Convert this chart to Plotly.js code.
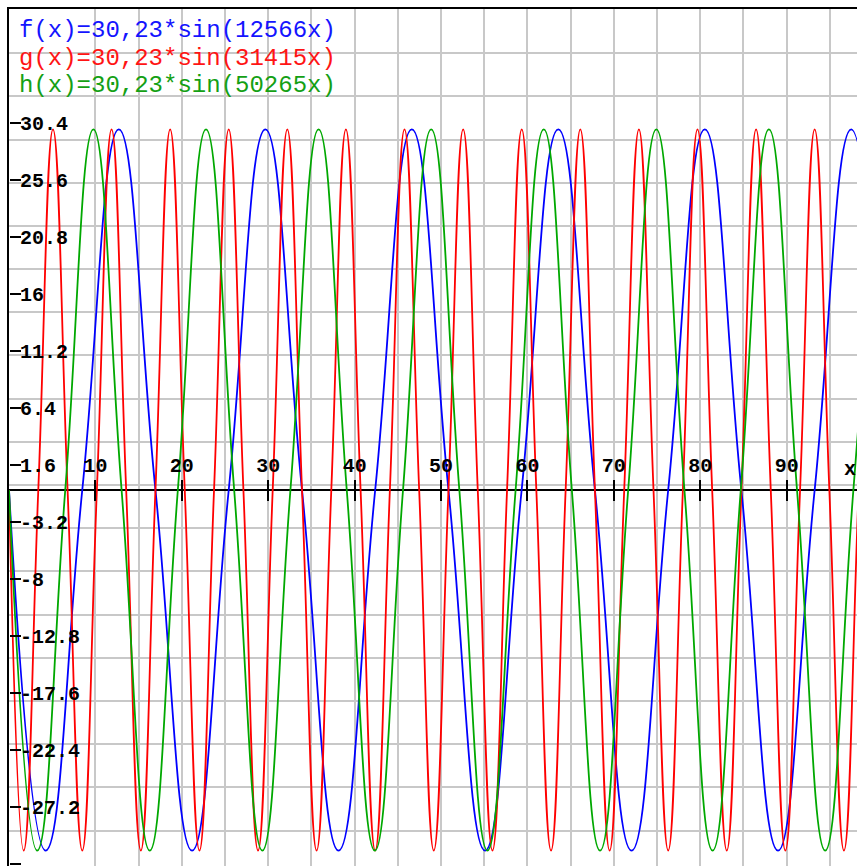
<!DOCTYPE html>
<html><head><meta charset="utf-8">
<script src="https://cdn.plot.ly/plotly-3.0.1.min.js"></script>
<style>html,body{margin:0;padding:0;background:#fff;}#chart{width:857px;height:866px;}</style>
</head><body><div id="chart"></div>
<script>
// f(x) = 30,23*sin(12566x) : zero crossings, troughs and peaks
const fX = [0, 4.24, 8.48, 12.71, 16.95, 21.19, 25.43, 29.67, 33.91, 38.14, 42.38, 46.62, 50.86, 55.10, 59.33, 63.57, 67.81, 72.05, 76.29, 80.53, 84.76, 89.00, 93.24, 97.48, 101.72];
const fY = [0, -30.23, 0, 30.23, 0, -30.23, 0, 30.23, 0, -30.23, 0, 30.23, 0, -30.23, 0, 30.23, 0, -30.23, 0, 30.23, 0, -30.23, 0, 30.23, 0];
// g(x) = 30,23*sin(31415x)
const gX = [0, 1.70, 3.39, 5.09, 6.78, 8.48, 10.17, 11.87, 13.56, 15.26, 16.95, 18.65, 20.34, 22.04, 23.73, 25.43, 27.13, 28.82, 30.52, 32.21, 33.91, 35.60, 37.30, 38.99, 40.69, 42.38, 44.08, 45.77, 47.47, 49.16, 50.86, 52.56, 54.25, 55.95, 57.64, 59.34, 61.03, 62.73, 64.42, 66.12, 67.81, 69.51, 71.20, 72.90, 74.59, 76.29, 77.99, 79.68, 81.38, 83.07, 84.77, 86.46, 88.16, 89.85, 91.55, 93.24, 94.94, 96.63, 98.33, 100.02];
const gY = [0, -30.23, 0, 30.23, 0, -30.23, 0, 30.23, 0, -30.23, 0, 30.23, 0, -30.23, 0, 30.23, 0, -30.23, 0, 30.23, 0, -30.23, 0, 30.23, 0, -30.23, 0, 30.23, 0, -30.23, 0, 30.23, 0, -30.23, 0, 30.23, 0, -30.23, 0, 30.23, 0, -30.23, 0, 30.23, 0, -30.23, 0, 30.23, 0, -30.23, 0, 30.23, 0, -30.23, 0, 30.23, 0, -30.23, 0, 30.23];
// h(x) = 30,23*sin(50265x)
const hX = [0, 3.26, 6.51, 9.77, 13.03, 16.29, 19.54, 22.80, 26.06, 29.32, 32.57, 35.83, 39.09, 42.34, 45.60, 48.86, 52.12, 55.37, 58.63, 61.89, 65.14, 68.40, 71.66, 74.92, 78.17, 81.43, 84.69, 87.95, 91.20, 94.46, 97.72, 100.97];
const hY = [0, -30.23, 0, 30.23, 0, -30.23, 0, 30.23, 0, -30.23, 0, 30.23, 0, -30.23, 0, 30.23, 0, -30.23, 0, 30.23, 0, -30.23, 0, 30.23, 0, -30.23, 0, 30.23, 0, -30.23, 0, 30.23];

const seriesNames = ["f(x)=30,23*sin(12566x)", "g(x)=30,23*sin(31415x)", "h(x)=30,23*sin(50265x)"];
const seriesColors = ["#0000ff", "#ff0000", "#00a800"];
const textColors = ["#1414ff", "#ff1414", "#14a014"];

const xTickVals = [10, 20, 30, 40, 50, 60, 70, 80, 90];
const xTickText = ["10", "20", "30", "40", "50", "60", "70", "80", "90"];
const yTickVals = [30.4, 25.6, 20.8, 16, 11.2, 6.4, 1.6, -3.2, -8, -12.8, -17.6, -22.4, -27.2, -32];
const yTickText = ["30.4", "25.6", "20.8", "16", "11.2", "6.4", "1.6", "-3.2", "-8", "-12.8", "-17.6", "-22.4", "-27.2", ""];

const monoFamily = "Liberation Mono, DejaVu Sans Mono, monospace";
const tickFont = {family: monoFamily, size: 20, color: "#000", weight: "bold"};
const legendFont = (c) => ({family: monoFamily, size: 24, color: c});
const curve = (x, y, name, color) => ({
  type: "scatter", mode: "lines", x: x, y: y, name: name, hoverinfo: "skip",
  line: {color: color, width: 1.8, shape: "spline", smoothing: 1.3}
});
const dummy = (xa, ya) => ({type: "scatter", mode: "lines", x: [null], y: [null], xaxis: xa, yaxis: ya, showlegend: false, hoverinfo: "skip"});

const data = [
  curve(fX, fY, seriesNames[0], seriesColors[0]),
  curve(gX, gY, seriesNames[1], seriesColors[1]),
  curve(hX, hY, seriesNames[2], seriesColors[2]),
  dummy("x2", "y"), dummy("x3", "y"), dummy("x", "y2"), dummy("x", "y3")
];

const xRange = [0, 98.14];
const gridColor = "#c8c8c8";
const zeroPos = 0.4387;

const layout = {
  width: 857, height: 866,
  margin: {l: 9, r: 0, t: 9, b: 0, pad: 0},
  paper_bgcolor: "#ffffff", plot_bgcolor: "#ffffff",
  showlegend: false,
  xaxis: {range: xRange, showgrid: true, tick0: 0, dtick: 5, gridcolor: gridColor, gridwidth: 2,
          zeroline: false, showline: true, side: "top", linecolor: "#000", linewidth: 2,
          showticklabels: false, ticks: ""},
  yaxis: {range: [-31.52, 40.32], showgrid: false, zeroline: true, zerolinecolor: "#000", zerolinewidth: 2,
          showline: true, linecolor: "#000", linewidth: 2, showticklabels: false, ticks: ""},
  xaxis2: {overlaying: "x", anchor: "free", position: zeroPos, side: "top", range: xRange,
           tickmode: "array", tickvals: xTickVals, ticktext: xTickText, ticks: "outside", ticklen: 10,
           tickwidth: 2, tickcolor: "#000", showgrid: false, zeroline: false, showline: false, tickfont: tickFont},
  xaxis3: {overlaying: "x", anchor: "free", position: zeroPos, side: "bottom", range: xRange,
           tickmode: "array", tickvals: xTickVals, ticks: "outside", ticklen: 10, tickwidth: 2, tickcolor: "#000",
           showticklabels: false, showgrid: false, zeroline: false, showline: false},
  yaxis2: {overlaying: "y", anchor: "free", position: 0, side: "left", range: [-32.14, 40.03],
           tickmode: "array", tickvals: yTickVals, ticktext: yTickText, ticks: "inside", ticklen: 11,
           tickwidth: 2, tickcolor: "#000", ticklabelposition: "inside", showgrid: false, zeroline: false,
           showline: false, tickfont: tickFont},
  yaxis3: {overlaying: "y", range: [-44.11, 55.11], tick0: 0, dtick: 5, showgrid: true, gridcolor: gridColor,
           gridwidth: 2, zeroline: false, showline: false, showticklabels: false, ticks: ""},
  shapes: [
    {type: "rect", xref: "paper", yref: "paper", x0: 0.002, x1: 0.4116, y0: 0.8985, y1: 0.9907,
     fillcolor: "#ffffff", line: {width: 0}, layer: "between"}
  ],
  annotations: [
    {xref: "paper", yref: "paper", x: 0.0094, y: 0.9749, xanchor: "left", yanchor: "middle", showarrow: false,
     text: seriesNames[0], font: legendFont(textColors[0])},
    {xref: "paper", yref: "paper", x: 0.0094, y: 0.9428, xanchor: "left", yanchor: "middle", showarrow: false,
     text: seriesNames[1], font: legendFont(textColors[1])},
    {xref: "paper", yref: "paper", x: 0.0094, y: 0.9107, xanchor: "left", yanchor: "middle", showarrow: false,
     text: seriesNames[2], font: legendFont(textColors[2])},
    {xref: "x", yref: "y", x: 97.3, y: 1.68, xanchor: "center", yanchor: "middle", showarrow: false,
     borderpad: 0, text: "x", font: tickFont}
  ]
};

Plotly.newPlot("chart", data, layout, {staticPlot: true, displayModeBar: false});
</script>
</body></html>
